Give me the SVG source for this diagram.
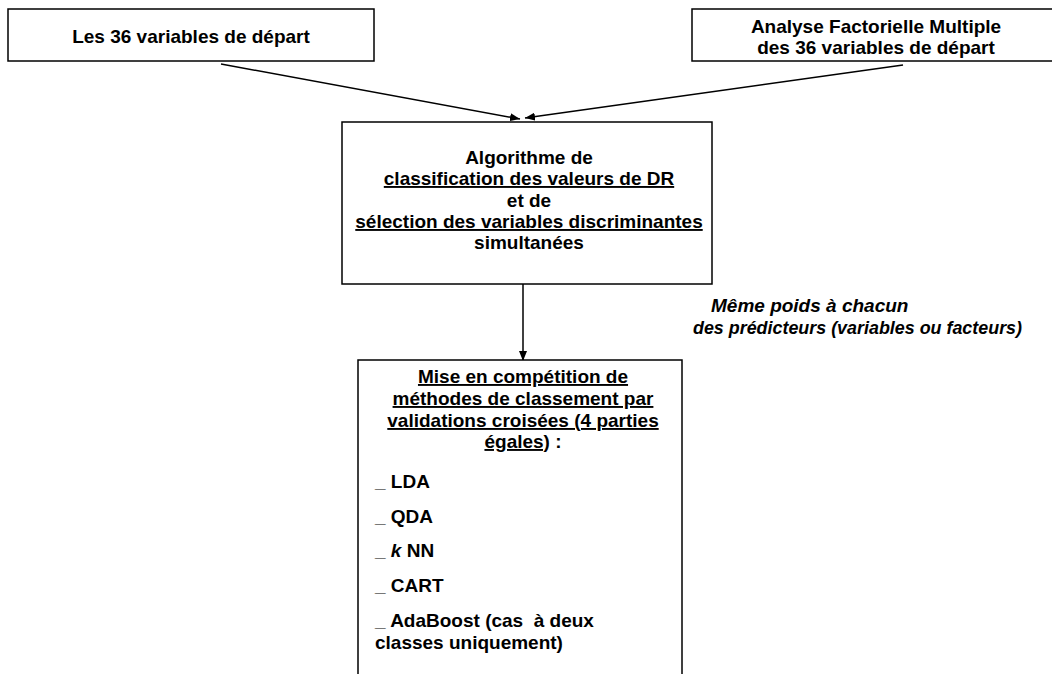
<svg xmlns="http://www.w3.org/2000/svg" width="1052" height="674" viewBox="0 0 1052 674">
<defs>
<style>
.box{fill:#fff;stroke:#000;stroke-width:1.5}
.t{font-family:"Liberation Sans",Arial,sans-serif;font-weight:bold;font-size:19px;fill:#000}
.c{text-anchor:middle}
.u{text-decoration:underline}
.i{font-style:italic}
.conn{stroke:#000;stroke-width:1.5;fill:none}
</style>
<marker id="ah" markerWidth="10" markerHeight="8" refX="10" refY="4" orient="auto" markerUnits="userSpaceOnUse">
<path d="M0,0 L10,4 L0,8 Z" fill="#000"/>
</marker>
</defs>
<rect width="1052" height="674" fill="#fff"/>
<g id="connectors">
<line class="conn" x1="221" y1="64" x2="520" y2="119" marker-end="url(#ah)"/>
<line class="conn" x1="903" y1="65" x2="525" y2="118" marker-end="url(#ah)"/>
<line class="conn" x1="523" y1="284" x2="523" y2="361" marker-end="url(#ah)"/>
</g>
<g id="node-variables">
<rect class="box" x="8" y="9" width="366" height="52"/>
<text class="t c" x="191" y="43">Les 36 variables de départ</text>
</g>
<g id="node-afm">
<rect class="box" x="692" y="9" width="380" height="52"/>
<text class="t c" x="876" y="33">Analyse Factorielle Multiple</text>
<text class="t c" x="876" y="54">des 36 variables de départ</text>
</g>
<g id="node-algo">
<rect class="box" x="342" y="122" width="370" height="162"/>
<text class="t c" x="529" y="164">Algorithme de</text>
<text class="t c u" x="529" y="185">classification des valeurs de DR</text>
<text class="t c" x="529" y="207">et de</text>
<text class="t c u" x="529" y="228">sélection des variables discriminantes</text>
<text class="t c" x="529" y="249">simultanées</text>
</g>
<g id="label-poids">
<text class="t i" x="711" y="312">Même poids à chacun</text>
<text class="t i" x="693" y="334" textLength="329" lengthAdjust="spacingAndGlyphs">des prédicteurs (variables ou facteurs)</text>
</g>
<g id="node-methodes">
<rect class="box" x="358" y="360" width="324" height="330"/>
<text class="t c u" x="523" y="383">Mise en compétition de</text>
<text class="t c u" x="523" y="405">méthodes de classement par</text>
<text class="t c u" x="523" y="427">validations croisées (4 parties</text>
<text class="t c" x="523" y="448"><tspan class="u">égales)</tspan> :</text>
<text class="t" x="375" y="488">_ LDA</text>
<text class="t" x="375" y="523">_ QDA</text>
<text class="t" x="375" y="557">_ <tspan class="i">k</tspan> NN</text>
<text class="t" x="375" y="592">_ CART</text>
<text class="t" x="375" y="627">_ AdaBoost (cas&#160; à deux</text>
<text class="t" x="375" y="649">classes uniquement)</text>
</g>
</svg>
